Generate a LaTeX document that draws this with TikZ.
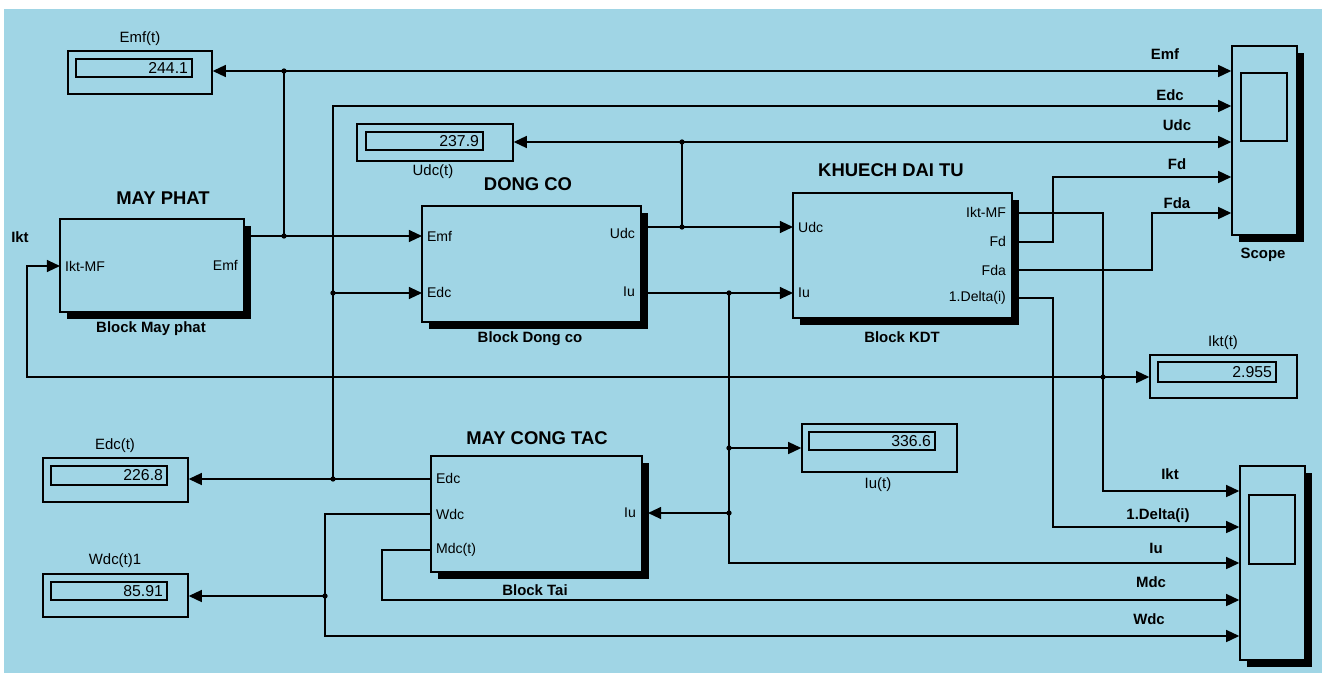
\documentclass[tikz,border=0pt]{standalone}
\usepackage{fontspec}
\setmainfont{Liberation Sans}
\usetikzlibrary{arrows.meta,shadows,fit}
\definecolor{simbg}{RGB}{160,213,229}
\tikzset{
  simblock/.style={draw, line width=0.8pt, fill=simbg, inner sep=0pt,
    drop shadow={shadow xshift=3.8pt, shadow yshift=-3.8pt, fill=black, opacity=1}},
  dispbox/.style={draw, line width=0.8pt, inner sep=0pt},
  sig/.style={line width=1pt, -{Triangle[length=7.5pt,width=6.8pt]}},
  wire/.style={line width=1pt},
  dot/.style={fill, circle, inner sep=0pt, minimum size=3pt},
  title/.style={font=\bfseries\fontsize{10.5}{12}\selectfont},
  caption/.style={font=\bfseries\fontsize{8.5}{10}\selectfont},
  port/.style={font=\fontsize{8}{9}\selectfont, inner sep=1pt},
  sigtag/.style={font=\bfseries\fontsize{8.5}{10}\selectfont},
  val/.style={font=\fontsize{9}{10}\selectfont, inner sep=2.5pt, anchor=east},
  disptag/.style={font=\fontsize{8.5}{10}\selectfont}
}
\begin{document}
\begin{tikzpicture}[x=0.02cm, y=-0.02cm]
  % background
  \useasboundingbox (0,0) rectangle (1327,676);
  \fill[simbg] (4,9) rectangle (1322,673);

  % main blocks
  \node[simblock, fit={(60,219) (244,312)}] (mayphat) {};
  \node[simblock, fit={(422,206) (641,322)}] (dongco) {};
  \node[simblock, fit={(793,193) (1012,318)}] (kdt) {};
  \node[simblock, fit={(431,456) (642,572)}] (mct) {};
  \node[title] at (163,198) {MAY PHAT};
  \node[title] at (528,184) {DONG CO};
  \node[title] at (891,170) {KHUECH DAI TU};
  \node[title] at (537,438) {MAY CONG TAC};
  \node[caption] at (151,329) {Block May phat};
  \node[caption] at (530,339) {Block Dong co};
  \node[caption] at (902,337) {Block KDT};
  \node[caption] at (535,590) {Block Tai};

  % port labels
  \node[port, anchor=west] at (63,266) {Ikt-MF};
  \node[port, anchor=east] at (240,265) {Emf};
  \node[port, anchor=west] at (425,236) {Emf};
  \node[port, anchor=west] at (425,292) {Edc};
  \node[port, anchor=east] at (637,233) {Udc};
  \node[port, anchor=east] at (637,292) {Iu};
  \node[port, anchor=west] at (796,227) {Udc};
  \node[port, anchor=west] at (796,293) {Iu};
  \node[port, anchor=east] at (1008,212) {Ikt-MF};
  \node[port, anchor=east] at (1008,241) {Fd};
  \node[port, anchor=east] at (1008,270) {Fda};
  \node[port, anchor=east] at (1008,298) {1.Delta(i)};
  \node[port, anchor=west] at (434,478) {Edc};
  \node[port, anchor=west] at (434,514) {Wdc};
  \node[port, anchor=west] at (434,550) {Mdc(t)};
  \node[port, anchor=east] at (638,513) {Iu};
  \node[sigtag] at (20,237) {Ikt};

  % scopes
  \node[simblock, fit={(1232,46) (1297,235)}] (scope) {};
  \node[dispbox, fit={(1241,73) (1287,141)}] (scopescr) {};
  \node[caption] at (1263,255) {Scope};
  \node[simblock, fit={(1240,466) (1305,660)}] (scopeb) {};
  \node[dispbox, fit={(1249,495) (1295,564)}] (scopebscr) {};

  % displays
  \node[dispbox, fit={(68,51) (212,94)}] (dEmf) {};
  \node[dispbox, fit={(76,59) (192,77)}] (vEmf) {};
  \node[val] at (vEmf.east) {244.1};
  \node[disptag] at (140,39) {Emf(t)};
  \node[dispbox, fit={(357,124) (513,161)}] (dUdc) {};
  \node[dispbox, fit={(366,132) (483,150)}] (vUdc) {};
  \node[val] at (vUdc.east) {237.9};
  \node[disptag] at (433,172) {Udc(t)};
  \node[dispbox, fit={(43,458) (188,502)}] (dEdc) {};
  \node[dispbox, fit={(51,466) (167,485)}] (vEdc) {};
  \node[val] at (vEdc.east) {226.8};
  \node[disptag] at (115,446) {Edc(t)};
  \node[dispbox, fit={(43,574) (188,617)}] (dWdc) {};
  \node[dispbox, fit={(51,582) (167,600)}] (vWdc) {};
  \node[val] at (vWdc.east) {85.91};
  \node[disptag] at (115,561) {Wdc(t)1};
  \node[dispbox, fit={(802,424) (957,472)}] (dIu) {};
  \node[dispbox, fit={(809,432) (935,450)}] (vIu) {};
  \node[val] at (vIu.east) {336.6};
  \node[disptag] at (878,485) {Iu(t)};
  \node[dispbox, fit={(1150,355) (1297,398)}] (dIkt) {};
  \node[dispbox, fit={(1158,362) (1276,382)}] (vIkt) {};
  \node[val] at (vIkt.east) {2.955};
  \node[disptag] at (1223,343) {Ikt(t)};

  % ports and branch points
  \coordinate (mp-in) at (60,266);
  \coordinate (mp-out) at (244,236);
  \coordinate (dc-emf) at (422,236);
  \coordinate (dc-edc) at (422,293);
  \coordinate (dc-udc) at (641,227);
  \coordinate (dc-iu) at (641,293);
  \coordinate (kdt-udc) at (793,227);
  \coordinate (kdt-iu) at (793,293);
  \coordinate (kdt-ikt) at (1012,213);
  \coordinate (kdt-fd) at (1012,242);
  \coordinate (kdt-fda) at (1012,270);
  \coordinate (kdt-dl) at (1012,298);
  \coordinate (mct-edc) at (431,479);
  \coordinate (mct-wdc) at (431,514);
  \coordinate (mct-mdc) at (431,550);
  \coordinate (mct-iu) at (648,513);
  \coordinate (jEmf) at (284,236);
  \coordinate (jEmf2) at (284,71);
  \coordinate (jEdc) at (333,479);
  \coordinate (jEdc2) at (333,293);
  \coordinate (jUdc) at (682,227);
  \coordinate (jUdc2) at (682,142);
  \coordinate (jIu) at (729,293);
  \coordinate (jIu2) at (729,448);
  \coordinate (jIu3) at (729,513);
  \coordinate (jIkt) at (1103,377);
  \coordinate (jWdc) at (325,596);

  % Emf
  \draw[sig] (mp-out) -- (jEmf) -- (dc-emf);
  \draw[wire] (jEmf) -- (jEmf2);
  \draw[sig] (jEmf2) -- (jEmf2 -| dEmf.east);
  \draw[sig] (jEmf2) -- (jEmf2 -| scope.west);
  \node[sigtag] at (1165,54) {Emf};
  % Edc
  \draw[sig] (mct-edc) -- (jEdc) -- (jEdc -| dEdc.east);
  \draw[wire] (jEdc) -- (jEdc2);
  \draw[sig] (jEdc2) -- (dc-edc);
  \draw[sig] (jEdc2) -- (333,106) -- (scope.west |- 0,106);
  \node[sigtag] at (1170,95) {Edc};
  % Udc
  \draw[sig] (dc-udc) -- (jUdc) -- (kdt-udc);
  \draw[wire] (jUdc) -- (jUdc2);
  \draw[sig] (jUdc2) -- (jUdc2 -| dUdc.east);
  \draw[sig] (jUdc2) -- (jUdc2 -| scope.west);
  \node[sigtag] at (1177,125) {Udc};
  % Iu
  \draw[sig] (dc-iu) -- (jIu) -- (kdt-iu);
  \draw[wire] (jIu) -- (jIu2);
  \draw[sig] (jIu2) -- (jIu2 -| dIu.west);
  \draw[wire] (jIu2) -- (jIu3);
  \draw[sig] (jIu3) -- (mct-iu);
  \draw[sig] (jIu3) -- (729,563) -- (scopeb.west |- 0,563);
  \node[sigtag] at (1156,548) {Iu};
  % KDT outputs
  \draw[wire] (kdt-ikt) -- (1103,213) -- (jIkt);
  \draw[sig] (jIkt) -- (jIkt -| dIkt.west);
  \draw[sig] (jIkt) -- (1103,491) -- (scopeb.west |- 0,491);
  \draw[sig] (jIkt) -- (27,377) -- (27,266) -- (mp-in);
  \node[sigtag] at (1170,474) {Ikt};
  \draw[sig] (kdt-fd) -- (1053,242) -- (1053,177) -- (scope.west |- 0,177);
  \node[sigtag] at (1177,164) {Fd};
  \draw[sig] (kdt-fda) -- (1152,270) -- (1152,213) -- (scope.west |- 0,213);
  \node[sigtag] at (1177,203) {Fda};
  \draw[sig] (kdt-dl) -- (1053,298) -- (1053,527) -- (scopeb.west |- 0,527);
  \node[sigtag] at (1158,516) {1.Delta(i)};
  % Wdc and Mdc
  \draw[wire] (mct-wdc) -- (325,514) -- (jWdc);
  \draw[sig] (jWdc) -- (jWdc -| dWdc.east);
  \draw[sig] (jWdc) -- (325,636) -- (scopeb.west |- 0,636);
  \node[sigtag] at (1149,619) {Wdc};
  \draw[sig] (mct-mdc) -- (382,550) -- (382,600) -- (scopeb.west |- 0,600);
  \node[sigtag] at (1151,582) {Mdc};

  % branch dots
  \foreach \j in {jEmf,jEmf2,jEdc,jEdc2,jUdc,jUdc2,jIu,jIu2,jIu3,jIkt,jWdc}
    \node[dot] at (\j) {};
\end{tikzpicture}
\end{document}
